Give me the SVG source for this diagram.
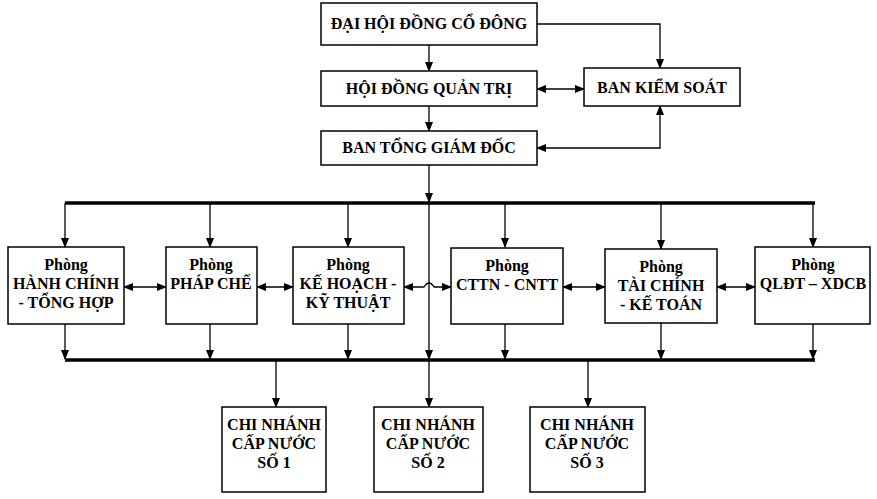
<svg xmlns="http://www.w3.org/2000/svg" width="877" height="499" viewBox="0 0 877 499">
<style>
rect{fill:#fff;stroke:#000;stroke-width:1.5}
text{font-family:"Liberation Serif",serif;font-weight:bold;font-size:16px;text-anchor:middle;fill:#000}
.c line,.c path{stroke:#000;stroke-width:1.3;fill:none}
.c .bus{stroke-width:3.5}
.a{marker-end:url(#ar)}
.b{marker-start:url(#al);marker-end:url(#ar)}
</style>
<defs>
<marker id="ar" markerWidth="10" markerHeight="8" refX="9" refY="4" orient="auto" markerUnits="userSpaceOnUse"><path d="M0,0L10,4L0,8z" fill="#000"/></marker>
<marker id="al" markerWidth="10" markerHeight="8" refX="1" refY="4" orient="auto" markerUnits="userSpaceOnUse"><path d="M10,0L0,4L10,8z" fill="#000"/></marker>
</defs>
<g class="c">
<line class="bus" x1="65" y1="203" x2="815" y2="203"/>
<line class="bus" x1="65" y1="360" x2="815" y2="360"/>
<line class="a" x1="429" y1="45" x2="429" y2="71"/>
<path class="a" d="M537,24H660V68"/>
<line class="b" x1="537" y1="89" x2="584" y2="89"/>
<line class="a" x1="429" y1="106" x2="429" y2="131"/>
<path class="b" d="M537,148H660V106"/>
<line class="a" x1="429" y1="165" x2="429" y2="202"/>
<line class="a" x1="429" y1="203" x2="429" y2="359"/>
<line class="a" x1="429" y1="360" x2="429" y2="407"/>
<line class="a" x1="276" y1="360" x2="276" y2="407"/>
<line class="a" x1="588" y1="360" x2="588" y2="407"/>
<line class="a" x1="65" y1="203" x2="65" y2="247"/>
<line class="a" x1="210" y1="203" x2="210" y2="247"/>
<line class="a" x1="348" y1="203" x2="348" y2="247"/>
<line class="a" x1="505" y1="203" x2="505" y2="247"/>
<line class="a" x1="661" y1="203" x2="661" y2="249"/>
<line class="a" x1="813" y1="203" x2="813" y2="247"/>
<line class="a" x1="65" y1="324" x2="65" y2="359"/>
<line class="a" x1="210" y1="324" x2="210" y2="359"/>
<line class="a" x1="348" y1="324" x2="348" y2="359"/>
<line class="a" x1="505" y1="324" x2="505" y2="359"/>
<line class="a" x1="661" y1="323" x2="661" y2="359"/>
<line class="a" x1="813" y1="324" x2="813" y2="359"/>
<line class="b" x1="124" y1="287" x2="166" y2="287"/>
<line class="b" x1="257" y1="287" x2="293" y2="287"/>
<path class="b" d="M404,287H424Q429,279 434,287H451"/>
<line class="b" x1="563" y1="287" x2="605" y2="287"/>
<line class="b" x1="717" y1="287" x2="755" y2="287"/>
</g>
<g id="dhdcd"><rect x="321" y="3" width="216" height="42"/><text x="429" y="29">ĐẠI HỘI ĐỒNG CỔ ĐÔNG</text></g>
<g id="hdqt"><rect x="321" y="71" width="216" height="35"/><text x="429" y="94">HỘI ĐỒNG QUẢN TRỊ</text></g>
<g id="bks"><rect x="584" y="68" width="156" height="38"/><text x="662" y="93">BAN KIỂM SOÁT</text></g>
<g id="btgd"><rect x="321" y="131" width="216" height="34"/><text x="429" y="153">BAN TỔNG GIÁM ĐỐC</text></g>
<g id="p1"><rect x="8" y="247" width="116" height="77"/><text x="66" y="270">Phòng</text><text x="66" y="289">HÀNH CHÍNH</text><text x="66" y="308">- TỔNG HỢP</text></g>
<g id="p2"><rect x="166" y="247" width="91" height="77"/><text x="211" y="270">Phòng</text><text x="211" y="289">PHÁP CHẾ</text></g>
<g id="p3"><rect x="293" y="247" width="111" height="77"/><text x="348" y="270">Phòng</text><text x="348" y="289">KẾ HOẠCH -</text><text x="348" y="308">KỸ THUẬT</text></g>
<g id="p4"><rect x="451" y="248" width="112" height="76"/><text x="507" y="271">Phòng</text><text x="507" y="290">CTTN - CNTT</text></g>
<g id="p5"><rect x="605" y="249" width="112" height="74"/><text x="661" y="272">Phòng</text><text x="661" y="291">TÀI CHÍNH</text><text x="661" y="310">- KẾ TOÁN</text></g>
<g id="p6"><rect x="755" y="247" width="115" height="77"/><text x="813" y="270">Phòng</text><text x="813" y="289">QLĐT – XDCB</text></g>
<g id="cn1"><rect x="222" y="407" width="104" height="85"/><text x="274" y="430">CHI NHÁNH</text><text x="274" y="449">CẤP NƯỚC</text><text x="274" y="468">SỐ 1</text></g>
<g id="cn2"><rect x="374" y="407" width="109" height="85"/><text x="428" y="430">CHI NHÁNH</text><text x="428" y="449">CẤP NƯỚC</text><text x="428" y="468">SỐ 2</text></g>
<g id="cn3"><rect x="530" y="407" width="115" height="85"/><text x="587" y="430">CHI NHÁNH</text><text x="587" y="449">CẤP NƯỚC</text><text x="587" y="468">SỐ 3</text></g>
</svg>
